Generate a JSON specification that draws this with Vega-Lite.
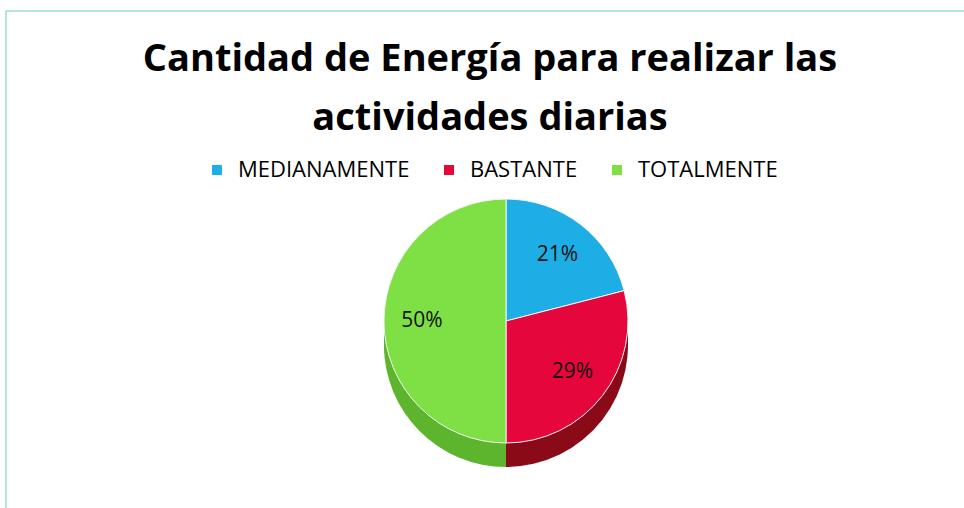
{
  "$schema": "https://vega.github.io/schema/vega-lite/v6.json",
  "width": 962,
  "height": 502,
  "autosize": {"type": "none"},
  "padding": {"left": 6, "top": 11, "right": 0, "bottom": 0},
  "background": "white",
  "view": {"stroke": "#9adcd4", "strokeWidth": 1.5, "fill": "white"},
  "config": {
    "font": "Open Sans"
  },
  "title": {
    "text": ["Cantidad de Energía para realizar las", "actividades diarias"],
    "orient": "top",
    "anchor": "middle",
    "offset": -127,
    "dx": 3,
    "fontSize": 38,
    "font": "Open Sans",
    "fontWeight": "bold",
    "color": "#000000",
    "lineHeight": 59
  },
  "data": {
    "values": [
      {"respuesta": "MEDIANAMENTE", "porcentaje": 0.21, "orden": 1},
      {"respuesta": "BASTANTE", "porcentaje": 0.29, "orden": 2},
      {"respuesta": "TOTALMENTE", "porcentaje": 0.50, "orden": 3}
    ]
  },
  "encoding": {
    "theta": {"field": "porcentaje", "type": "quantitative", "stack": true},
    "order": {"field": "orden", "type": "quantitative"}
  },
  "layer": [
    {
      "mark": {"type": "arc", "radius": 122, "xOffset": 19, "yOffset": 83},
      "encoding": {
        "color": {"field": "respuesta", "type": "nominal", "legend": null,
          "scale": {"domain": ["MEDIANAMENTE", "BASTANTE", "TOTALMENTE"], "range": ["#1580b0", "#8a0a18", "#5db52e"]}}
      }
    },
    {
      "mark": {"type": "arc", "radius": 122, "xOffset": 19, "yOffset": 78},
      "encoding": {
        "color": {"field": "respuesta", "type": "nominal", "legend": null,
          "scale": {"domain": ["MEDIANAMENTE", "BASTANTE", "TOTALMENTE"], "range": ["#1580b0", "#8a0a18", "#5db52e"]}}
      }
    },
    {
      "mark": {"type": "arc", "radius": 122, "xOffset": 19, "yOffset": 73},
      "encoding": {
        "color": {"field": "respuesta", "type": "nominal", "legend": null,
          "scale": {"domain": ["MEDIANAMENTE", "BASTANTE", "TOTALMENTE"], "range": ["#1580b0", "#8a0a18", "#5db52e"]}}
      }
    },
    {
      "mark": {"type": "arc", "radius": 122, "xOffset": 19, "yOffset": 68},
      "encoding": {
        "color": {"field": "respuesta", "type": "nominal", "legend": null,
          "scale": {"domain": ["MEDIANAMENTE", "BASTANTE", "TOTALMENTE"], "range": ["#1580b0", "#8a0a18", "#5db52e"]}}
      }
    },
    {
      "mark": {"type": "arc", "radius": 122, "xOffset": 19, "yOffset": 63},
      "encoding": {
        "color": {"field": "respuesta", "type": "nominal", "legend": null,
          "scale": {"domain": ["MEDIANAMENTE", "BASTANTE", "TOTALMENTE"], "range": ["#1580b0", "#8a0a18", "#5db52e"]}}
      }
    },
    {
      "mark": {"type": "arc", "radius": 122, "xOffset": 19, "yOffset": 59, "stroke": "#f4f4f4", "strokeWidth": 1},
      "encoding": {
        "color": {
          "field": "respuesta",
          "type": "nominal",
          "scale": {"domain": ["MEDIANAMENTE", "BASTANTE", "TOTALMENTE"], "range": ["#1eaee6", "#e5073c", "#7fe045"]},
          "legend": {
            "title": null,
            "orient": "none",
            "direction": "horizontal",
            "columns": 3,
            "gridAlign": "none",
            "legendX": 200,
            "legendY": 148,
            "symbolType": "square",
            "symbolSize": 100,
            "symbolStrokeWidth": 0,
            "labelFontSize": 22,
            "labelFont": "Open Sans",
            "labelColor": "#000000",
            "labelOffset": 10,
            "labelLimit": 400,
            "columnPadding": 28
          }
        }
      }
    },
    {
      "mark": {"type": "text", "radius": 84, "xOffset": 19, "yOffset": 59, "fontSize": 21, "font": "Open Sans", "color": "#111111"},
      "encoding": {
        "text": {"field": "porcentaje", "type": "quantitative", "format": ".0%"}
      }
    }
  ],
  "resolve": {"scale": {"color": "independent"}}
}
